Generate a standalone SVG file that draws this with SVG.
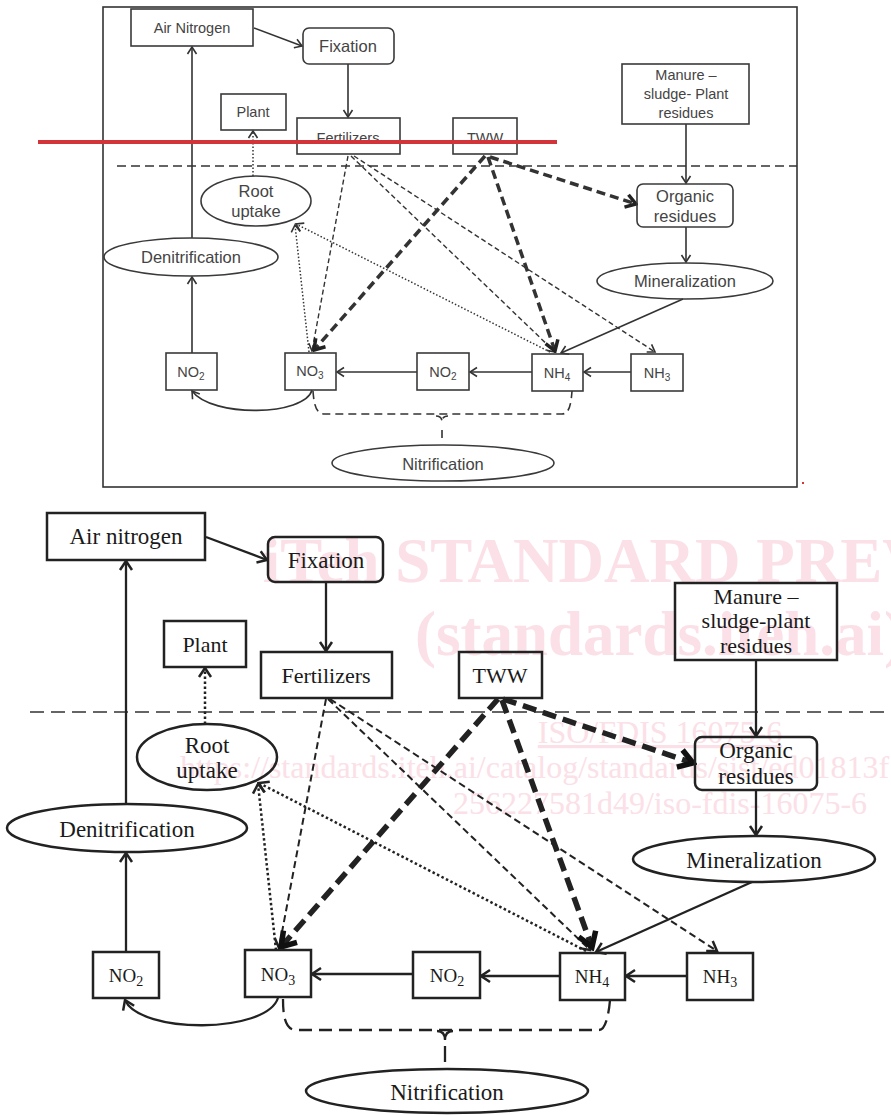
<svg xmlns="http://www.w3.org/2000/svg" width="891" height="1115" viewBox="0 0 891 1115">
<style>
.tbox{fill:none;stroke:#3a3a3a;stroke-width:1.6}
.tl{fill:none;stroke:#333;stroke-width:1.6}
.tt{font-family:"Liberation Sans",Arial,sans-serif;font-size:14.5px;fill:#444;text-anchor:middle}
.tt2{font-family:"Liberation Sans",Arial,sans-serif;font-size:16.5px;fill:#444;text-anchor:middle}
.tthin{stroke-dasharray:5 3;stroke-width:1.4}
.tthick{stroke-dasharray:9 5;stroke-width:3.5}
.tdot{stroke-dasharray:1.5 2;stroke-width:1.5}
.bbox{fill:none;stroke:#222;stroke-width:2.5}
.bl{fill:none;stroke:#222;stroke-width:2.3}
.bt{font-family:"Liberation Serif","Times New Roman",serif;font-size:23px;fill:#1a1a1a;text-anchor:middle}
.bs{font-family:"Liberation Serif","Times New Roman",serif;font-size:22px;fill:#1a1a1a;text-anchor:middle}
.bn{font-family:"Liberation Serif","Times New Roman",serif;font-size:19px;fill:#1a1a1a;text-anchor:middle}
.bthin{stroke-dasharray:7 4;stroke-width:2}
.bthick{stroke-dasharray:14 7;stroke-width:5.5}
.bdot{stroke-dasharray:2.5 2.5;stroke-width:2.5}
.wm{font-family:"Liberation Serif","Times New Roman",serif;fill:#fbe0e7}
</style>
<defs>
<marker id="ta" viewBox="-12 -8 14 16" refX="0" refY="0" markerWidth="14" markerHeight="16" markerUnits="userSpaceOnUse" orient="auto"><path d="M-7,-4.5 L0,0 L-7,4.5" fill="none" stroke="#333" stroke-width="1.6"/></marker>
<marker id="tk" viewBox="-16 -10 18 20" refX="0" refY="0" markerWidth="18" markerHeight="20" markerUnits="userSpaceOnUse" orient="auto"><path d="M-10,-6.5 L0,0 L-10,6.5" fill="none" stroke="#222" stroke-width="3.5"/></marker>
<marker id="ba" viewBox="-14 -10 16 20" refX="0" refY="0" markerWidth="16" markerHeight="20" markerUnits="userSpaceOnUse" orient="auto"><path d="M-9,-6 L0,0 L-9,6" fill="none" stroke="#222" stroke-width="2.5"/></marker>
<marker id="bk" viewBox="-20 -14 24 28" refX="0" refY="0" markerWidth="24" markerHeight="28" markerUnits="userSpaceOnUse" orient="auto"><path d="M-14,-9 L0,0 L-14,9" fill="none" stroke="#111" stroke-width="5.5"/></marker>
</defs>
<rect width="891" height="1115" fill="#fff"/>

<!-- ===== TOP (original) diagram ===== -->
<rect x="103" y="7" width="694" height="480" fill="none" stroke="#333" stroke-width="1.6"/>
<line x1="117" y1="166" x2="797" y2="166" stroke="#333" stroke-width="1.4" stroke-dasharray="9 5"/>

<g id="top-connectors">
<path class="tl" d="M254,28 L302,46" marker-end="url(#ta)"/>
<path class="tl" d="M348,64 L348,117" marker-end="url(#ta)"/>
<path class="tl" d="M192,238 L192,47" marker-end="url(#ta)"/>
<path class="tl" d="M192,353 L192,277" marker-end="url(#ta)"/>
<path class="tl tdot" d="M253,176 L253,131" marker-end="url(#ta)"/>
<path class="tl" d="M686,124 L686,183" marker-end="url(#ta)"/>
<path class="tl" d="M686,227 L686,262" marker-end="url(#ta)"/>
<path class="tl" d="M683,299 L561,353" marker-end="url(#ta)"/>
<path class="tl" d="M631,372 L584,372" marker-end="url(#ta)"/>
<path class="tl" d="M532,372 L470,372" marker-end="url(#ta)"/>
<path class="tl" d="M417,372 L337,372" marker-end="url(#ta)"/>
<path class="tl" d="M312,390 C305,416 212,418 192,391" marker-end="url(#ta)"/>
<path class="tl tthin" d="M348,156 L312,351" marker-end="url(#ta)"/>
<path class="tl tthin" d="M351,156 L555,352" marker-end="url(#ta)"/>
<path class="tl tthin" d="M354,156 L655,352" marker-end="url(#ta)"/>
<path class="tl tthick" d="M485,156 L314,350" marker-end="url(#tk)"/>
<path class="tl tthick" d="M488,157 L555,351" marker-end="url(#tk)"/>
<path class="tl tthick" d="M490,157 L636,204" marker-end="url(#tk)"/>
<path class="tl tdot" d="M550,352 L296,224" marker-end="url(#ta)"/>
<path class="tl tdot" d="M309,352 L295,225" marker-end="url(#ta)"/>
<path class="tl" stroke-dasharray="8 5" d="M313,391 C314,405 316,414 325,414 L562,414 C569,414 571,405 572,391"/>
<path class="tl" stroke-dasharray="8 5" d="M436,416 Q442,416 442,422 Q442,416 448,416 M442,430 L442,440"/>
</g>

<g id="t-air"><rect class="tbox" x="131" y="9" width="122" height="37"/><text class="tt" x="192" y="33">Air Nitrogen</text></g>
<g id="t-fix"><rect class="tbox" x="303" y="28" width="91" height="36" rx="6"/><text class="tt2" x="348" y="52">Fixation</text></g>
<g id="t-plant"><rect class="tbox" x="221" y="94" width="65" height="36"/><text class="tt" x="253" y="117">Plant</text></g>
<g id="t-fert"><rect class="tbox" x="297" y="118" width="103" height="36"/><text class="tt" x="348" y="143">Fertilizers</text></g>
<g id="t-tww"><rect class="tbox" x="453" y="118" width="64" height="36"/><text class="tt" x="485" y="143">TWW</text></g>
<g id="t-manure"><rect class="tbox" x="622" y="64" width="127" height="60"/><text class="tt" x="686" y="80">Manure –</text><text class="tt" x="686" y="99">sludge- Plant</text><text class="tt" x="686" y="118">residues</text></g>
<g id="t-root"><ellipse class="tbox" cx="256" cy="201" rx="55" ry="25"/><text class="tt2" x="256" y="197">Root</text><text class="tt2" x="256" y="217">uptake</text></g>
<g id="t-org"><rect class="tbox" x="637" y="184" width="96" height="43" rx="6"/><text class="tt2" x="685" y="202">Organic</text><text class="tt2" x="685" y="222">residues</text></g>
<g id="t-denit"><ellipse class="tbox" cx="191" cy="257" rx="87" ry="19"/><text class="tt2" x="191" y="263" font-size="17">Denitrification</text></g>
<g id="t-miner"><ellipse class="tbox" cx="685" cy="281" rx="88" ry="18"/><text class="tt2" x="685" y="287" font-size="17">Mineralization</text></g>
<g id="t-no2a"><rect class="tbox" x="166" y="353" width="51" height="37"/><text class="tt" x="191" y="377">NO<tspan font-size="10" dy="3">2</tspan></text></g>
<g id="t-no3"><rect class="tbox" x="285" y="353" width="51" height="37"/><text class="tt" x="310" y="376">NO<tspan font-size="10" dy="3">3</tspan></text></g>
<g id="t-no2b"><rect class="tbox" x="417" y="353" width="52" height="37"/><text class="tt" x="443" y="377">NO<tspan font-size="10" dy="3">2</tspan></text></g>
<g id="t-nh4"><rect class="tbox" x="532" y="354" width="51" height="37"/><text class="tt" x="557" y="378">NH<tspan font-size="10" dy="3">4</tspan></text></g>
<g id="t-nh3"><rect class="tbox" x="631" y="354" width="52" height="37"/><text class="tt" x="657" y="378">NH<tspan font-size="10" dy="3">3</tspan></text></g>
<g id="t-nitr"><ellipse class="tbox" cx="443" cy="463" rx="111" ry="18"/><text class="tt2" x="443" y="470" font-size="17">Nitrification</text></g>

<rect x="38" y="140" width="519" height="4" fill="#d2343a"/>
<rect x="802" y="482" width="2" height="2" fill="#d2343a"/>

<!-- ===== watermark ===== -->
<g id="watermark">
<text class="wm" x="660" y="582" font-size="63" font-weight="bold" text-anchor="middle">iTeh STANDARD PREVIEW</text>
<text class="wm" x="660" y="655" font-size="63" font-weight="bold" text-anchor="middle">(standards.iteh.ai)</text>
<text class="wm" x="660" y="743" font-size="32" text-anchor="middle" text-decoration="underline">ISO/FDIS 16075-6</text>
<text class="wm" x="180" y="778" font-size="32">https://standards.iteh.ai/catalog/standards/sist/ed01813f</text>
<text class="wm" x="660" y="814" font-size="32" text-anchor="middle">256227581d49/iso-fdis-16075-6</text>
</g>

<!-- ===== BOTTOM (redrawn) diagram ===== -->
<line x1="30" y1="712" x2="891" y2="712" stroke="#333" stroke-width="1.6" stroke-dasharray="14 7"/>

<g id="bottom-connectors">
<path class="bl" d="M206,537 L267,560" marker-end="url(#ba)"/>
<path class="bl" d="M326,582 L326,651" marker-end="url(#ba)"/>
<path class="bl" d="M126,804 L126,561" marker-end="url(#ba)"/>
<path class="bl" d="M126,952 L126,853" marker-end="url(#ba)"/>
<path class="bl bdot" d="M205,724 L205,668" marker-end="url(#ba)"/>
<path class="bl" d="M756,660 L756,736" marker-end="url(#ba)"/>
<path class="bl" d="M756,790 L756,835" marker-end="url(#ba)"/>
<path class="bl" d="M752,882 L596,952" marker-end="url(#ba)"/>
<path class="bl" d="M687,976 L626,976" marker-end="url(#ba)"/>
<path class="bl" d="M560,976 L481,976" marker-end="url(#ba)"/>
<path class="bl" d="M413,974 L312,974" marker-end="url(#ba)"/>
<path class="bl" d="M278,998 C266,1034 140,1034 125,1000" marker-end="url(#ba)"/>
<path class="bl bthin" d="M326,699 L279,948" marker-end="url(#ba)"/>
<path class="bl bthin" d="M328,699 L590,950" marker-end="url(#ba)"/>
<path class="bl bthin" d="M330,699 L717,951" marker-end="url(#ba)"/>
<path class="bl bthick" d="M498,699 L281,947" marker-end="url(#bk)"/>
<path class="bl bthick" d="M502,700 L592,947" marker-end="url(#bk)"/>
<path class="bl bthick" d="M503,699 L693,763" marker-end="url(#bk)"/>
<path class="bl bdot" d="M586,951 L259,783" marker-end="url(#ba)"/>
<path class="bl bdot" d="M276,950 L258,784" marker-end="url(#ba)"/>
<path class="bl" stroke-dasharray="13 7" d="M283,999 C283,1012 284,1030 296,1030 L599,1030 C606,1030 609,1012 610,1000"/>
<path class="bl" stroke-width="2.8" d="M437,1031 Q445,1031 445,1040 Q445,1031 453,1031 M445,1046 L445,1062"/>
</g>

<g id="b-air"><rect class="bbox" x="47" y="513" width="158" height="47"/><text class="bt" x="126" y="544">Air nitrogen</text></g>
<g id="b-fix"><rect class="bbox" x="268" y="537" width="115" height="45" rx="7"/><text class="bt" x="326" y="568">Fixation</text></g>
<g id="b-plant"><rect class="bbox" x="164" y="621" width="82" height="46"/><text class="bs" x="205" y="652">Plant</text></g>
<g id="b-fert"><rect class="bbox" x="261" y="652" width="131" height="46"/><text class="bs" x="326" y="683">Fertilizers</text></g>
<g id="b-tww"><rect class="bbox" x="459" y="652" width="83" height="46"/><text class="bs" x="500" y="683" font-size="20">TWW</text></g>
<g id="b-manure"><rect class="bbox" x="675" y="583" width="162" height="77"/><text class="bs" x="756" y="604">Manure –</text><text class="bs" x="756" y="628">sludge-plant</text><text class="bs" x="756" y="653">residues</text></g>
<g id="b-root"><ellipse class="bbox" cx="207" cy="757" rx="70" ry="33"/><text class="bt" x="207" y="753">Root</text><text class="bt" x="207" y="778">uptake</text></g>
<g id="b-org"><rect class="bbox" x="695" y="737" width="122" height="53" rx="7"/><text class="bt" x="756" y="758">Organic</text><text class="bt" x="756" y="784">residues</text></g>
<g id="b-denit"><ellipse class="bbox" cx="127" cy="828" rx="120" ry="24"/><text class="bt" x="127" y="837">Denitrification</text></g>
<g id="b-miner"><ellipse class="bbox" cx="754" cy="859" rx="121" ry="23"/><text class="bt" x="754" y="868">Mineralization</text></g>
<g id="b-no2a"><rect class="bbox" x="93" y="952" width="66" height="46"/><text class="bn" x="126" y="982">NO<tspan font-size="14" dy="4">2</tspan></text></g>
<g id="b-no3"><rect class="bbox" x="245" y="950" width="66" height="47"/><text class="bn" x="278" y="981">NO<tspan font-size="14" dy="4">3</tspan></text></g>
<g id="b-no2b"><rect class="bbox" x="413" y="952" width="67" height="46"/><text class="bn" x="447" y="982">NO<tspan font-size="14" dy="4">2</tspan></text></g>
<g id="b-nh4"><rect class="bbox" x="560" y="953" width="65" height="47"/><text class="bn" x="592" y="983">NH<tspan font-size="14" dy="4">4</tspan></text></g>
<g id="b-nh3"><rect class="bbox" x="687" y="953" width="66" height="47"/><text class="bn" x="720" y="983">NH<tspan font-size="14" dy="4">3</tspan></text></g>
<g id="b-nitr"><ellipse class="bbox" cx="447" cy="1091" rx="141" ry="22"/><text class="bt" x="447" y="1100">Nitrification</text></g>
</svg>
